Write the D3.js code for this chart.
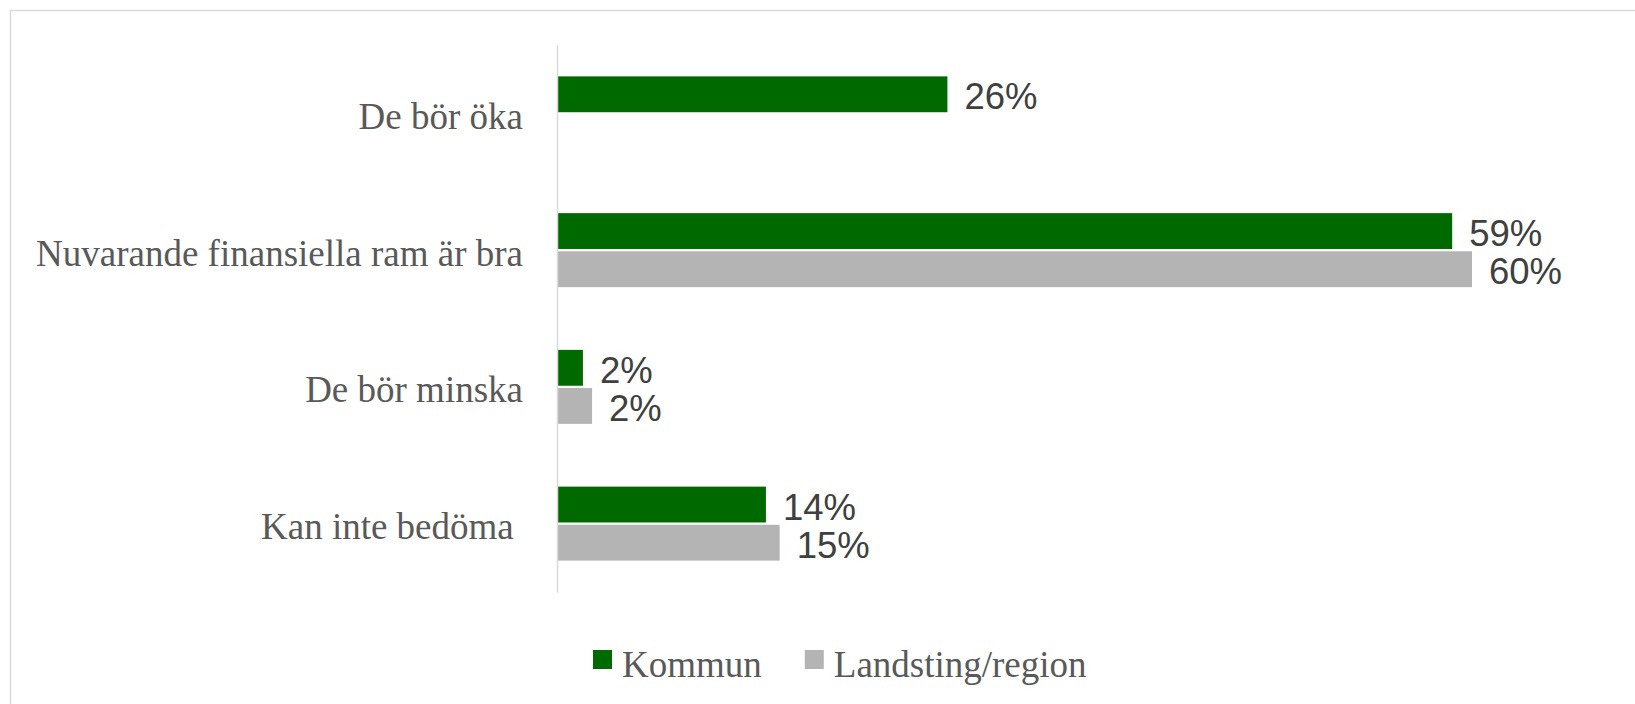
<!DOCTYPE html>
<html>
<head>
<meta charset="UTF-8">
<title>Finansiella ram</title>
<script src="https://cdn.jsdelivr.net/npm/d3@7"></script>
<style>
body { margin:0; background:#ffffff; }
svg { display:block; }
</style>
</head>
<body>
<svg id="chart" width="1635" height="704"></svg>
<script>
// ---- data ----
var categories = ["De bör öka", "Nuvarande finansiella ram är bra", "De bör minska", "Kan inte bedöma "]
var seriesNames = ["Kommun", "Landsting/region"]
var kommun = [0.256, 0.587, 0.017, 0.137]
var landsting = [null, 0.600, 0.023, 0.146]
var seriesColors = ["#006a00", "#b4b4b4"]

var W = 1635, H = 704
var svg = d3.select("#chart")

// outer frame (runs off the right and bottom edge)
svg.append("rect")
  .attr("x", 10.5).attr("y", 10.5)
  .attr("width", W).attr("height", H)
  .attr("fill", "#ffffff")
  .attr("stroke", "#d9d9d9")
  .attr("stroke-width", 1.5)

var x = d3.scaleLinear().domain([0, 0.68]).range([557, 1594])
var y = d3.scaleBand().domain(categories).range([45, 592])
var ySub = d3.scaleBand().domain(seriesNames).range([-37, 37]).paddingInner(0.06)

var rows = []
categories.forEach(function(c, i) {
  rows.push({cat: c, s: seriesNames[0], v: kommun[i], col: seriesColors[0]})
  if (landsting[i] != null) rows.push({cat: c, s: seriesNames[1], v: landsting[i], col: seriesColors[1]})
})

// bars
svg.append("g").selectAll("rect")
  .data(rows)
  .join("rect")
  .attr("x", x(0))
  .attr("y", function(d) { return y(d.cat) + y.bandwidth()/2 + ySub(d.s) })
  .attr("width", function(d) { return x(d.v) - x(0) })
  .attr("height", ySub.bandwidth())
  .attr("fill", function(d) { return d.col })

// value labels
svg.append("g").selectAll("text")
  .data(rows)
  .join("text")
  .attr("x", function(d) { return x(d.v) + 17 })
  .attr("y", function(d) { return y(d.cat) + y.bandwidth()/2 + ySub(d.s) + ySub.bandwidth()/2 + 15 })
  .attr("font-family", "'Liberation Sans', Arial, sans-serif")
  .attr("font-size", "36.5px")
  .attr("fill", "#404040")
  .text(function(d) { return Math.round(d.v*100) + "%" })

// category axis (line only, labels right aligned)
var yAxis = svg.append("g")
  .attr("transform", "translate(" + x(0) + ",0)")
  .call(d3.axisLeft(y).tickSize(0).tickPadding(34))
yAxis.select(".domain").attr("stroke", "#d9d9d9").attr("stroke-width", 1.5)
yAxis.selectAll("text")
  .attr("font-family", "'Liberation Serif', 'Times New Roman', serif")
  .attr("font-size", "37px")
  .attr("fill", "#595959")
  .attr("dy", null)
  .attr("y", 15.5)
  .style("white-space", "pre")

// legend
var legend = svg.append("g").attr("transform", "translate(593,650)")
var lx = 0
seriesNames.forEach(function(name, i) {
  var item = legend.append("g").attr("transform", "translate(" + lx + ",0)")
  item.append("rect").attr("width", 19).attr("height", 19).attr("fill", seriesColors[i])
  var t = item.append("text")
    .attr("x", 29).attr("y", 27)
    .attr("font-family", "'Liberation Serif', 'Times New Roman', serif")
    .attr("font-size", "37px")
    .attr("fill", "#595959")
    .text(name)
  lx += 29 + t.node().getComputedTextLength() + 43
})
</script>
</body>
</html>
